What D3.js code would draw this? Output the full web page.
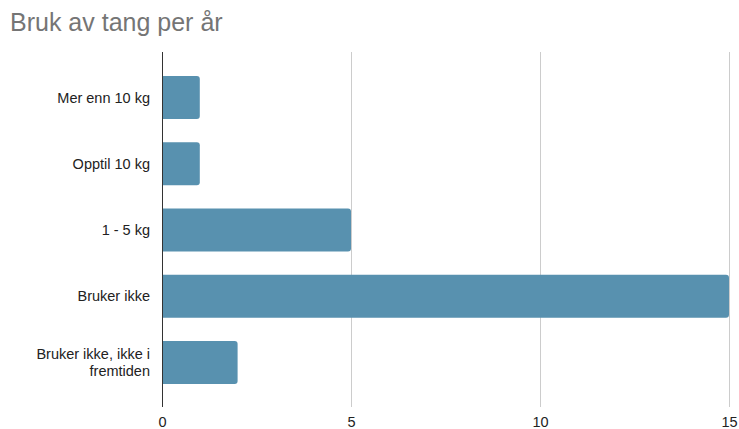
<!DOCTYPE html>
<html>
<head>
<meta charset="utf-8">
<script src="https://cdn.jsdelivr.net/npm/d3@7"></script>
<style>
body{margin:0;background:#fff;}
text{font-family:"Liberation Sans",Arial,sans-serif;}
</style>
</head>
<body>
<svg id="chart"></svg>
<script>
var categories=["Mer enn 10 kg","Opptil 10 kg","1 - 5 kg","Bruker ikke","Bruker ikke, ikke i fremtiden"];
var values=[1,1,5,15,2];
var ticks=[0,5,10,15];
var labelLines={"Bruker ikke, ikke i fremtiden":["Bruker ikke, ikke i","fremtiden"]};

var width=739,height=429;
var svg=d3.select("#chart").attr("width",width).attr("height",height);

svg.append("text")
   .attr("x",10)
   .attr("y",31)
   .attr("fill","#757575")
   .style("font-size","25px")
   .text("Bruk av tang per år");

var xScale=d3.scaleLinear().domain([0,15]).range([162,729]);
var yScale=d3.scaleBand().domain(categories).range([64.4,395.6]).paddingInner(0.35).paddingOuter(0.175);

// gridlines
svg.selectAll("line.grid")
   .data(ticks.slice(1))
   .enter()
   .append("line")
   .attr("class","grid")
   .attr("x1",function(d){return xScale(d)+0.5;})
   .attr("x2",function(d){return xScale(d)+0.5;})
   .attr("y1",52)
   .attr("y2",407)
   .attr("stroke","#cccccc")
   .attr("stroke-width",1);

svg.selectAll("path.bar")
   .data(values)
   .enter()
   .append("path")
   .attr("class","bar")
   .attr("fill","#5891af")
   .attr("d",function(d,i){
     var x0=xScale(0),x1=xScale(d),y0=yScale(categories[i]),h=yScale.bandwidth(),r=3;
     return "M"+x0+","+y0+"H"+(x1-r)+"Q"+x1+","+y0+" "+x1+","+(y0+r)
       +"V"+(y0+h-r)+"Q"+x1+","+(y0+h)+" "+(x1-r)+","+(y0+h)+"H"+x0+"Z";
   });

// zero axis line
svg.append("line")
   .attr("x1",xScale(0)+0.5).attr("x2",xScale(0)+0.5)
   .attr("y1",52).attr("y2",407)
   .attr("stroke","#333").attr("stroke-width",1);

var xAxis=d3.axisBottom(xScale).tickValues(ticks).tickSize(0).tickPadding(0);
var gx=svg.append("g").attr("transform","translate(0,422)").call(xAxis);
gx.select(".domain").remove();
gx.selectAll("text").attr("dy","0.35em").attr("fill","#222").style("font-size","14.5px").style("font-family","'Liberation Sans',Arial,sans-serif");

// category labels
var lab=svg.selectAll("text.cat")
   .data(categories)
   .enter()
   .append("text")
   .attr("class","cat")
   .attr("text-anchor","end")
   .attr("fill","#222")
   .style("font-size","14.5px");
lab.each(function(d){
  var lines=labelLines[d]||[d];
  var cy=yScale(d)+yScale.bandwidth()/2;
  var t=d3.select(this);
  lines.forEach(function(l,j){
    t.append("tspan")
     .attr("x",150)
     .attr("y",cy+(j-(lines.length-1)/2)*17)
     .attr("dy","0.35em")
     .text(l);
  });
});
</script>
</body>
</html>
